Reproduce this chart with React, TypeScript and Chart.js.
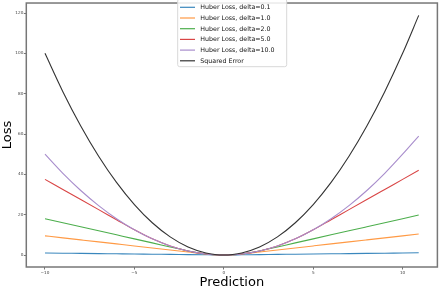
import React, { useEffect, useRef } from "react";
import { Chart, registerables } from "chart.js";

Chart.register(...registerables);

const predictions = [-10, -9, -8, -7, -6, -5, -4, -3, -2, -1, -0.5, 0, 0.5, 1, 2, 3, 4, 5, 6, 7, 8, 9, 10, 10.9];
const huber01 = [0.995, 0.895, 0.795, 0.695, 0.595, 0.495, 0.395, 0.295, 0.195, 0.095, 0.045, 0, 0.045, 0.095, 0.195, 0.295, 0.395, 0.495, 0.595, 0.695, 0.795, 0.895, 0.995, 1.085];
const huber1 = [9.5, 8.5, 7.5, 6.5, 5.5, 4.5, 3.5, 2.5, 1.5, 0.5, 0.125, 0, 0.125, 0.5, 1.5, 2.5, 3.5, 4.5, 5.5, 6.5, 7.5, 8.5, 9.5, 10.4];
const huber2 = [18, 16, 14, 12, 10, 8, 6, 4, 2, 0.5, 0.125, 0, 0.125, 0.5, 2, 4, 6, 8, 10, 12, 14, 16, 18, 19.8];
const huber5 = [37.5, 32.5, 27.5, 22.5, 17.5, 12.5, 8, 4.5, 2, 0.5, 0.125, 0, 0.125, 0.5, 2, 4.5, 8, 12.5, 17.5, 22.5, 27.5, 32.5, 37.5, 42];
const huber10 = [50, 40.5, 32, 24.5, 18, 12.5, 8, 4.5, 2, 0.5, 0.125, 0, 0.125, 0.5, 2, 4.5, 8, 12.5, 18, 24.5, 32, 40.5, 50, 59];
const squared = [100, 81, 64, 49, 36, 25, 16, 9, 4, 1, 0.25, 0, 0.25, 1, 4, 9, 16, 25, 36, 49, 64, 81, 100, 118.81];

const seriesLabels = [
  "Huber Loss, delta=0.1",
  "Huber Loss, delta=1.0",
  "Huber Loss, delta=2.0",
  "Huber Loss, delta=5.0",
  "Huber Loss, delta=10.0",
  "Squared Error",
];
const seriesValues = [huber01, huber1, huber2, huber5, huber10, squared];
const seriesColors = ["#3a87bd", "#ff9a45", "#4cae4c", "#d94545", "#a88dcc", "#333333"];

const xTicks = [-10, -5, 0, 5, 10];
const yTicks = [0, 20, 40, 60, 80, 100, 120];

const FONT = "'DejaVu Sans', sans-serif";

const framePlugin = {
  id: "frame",
  afterDatasetsDraw(chart: any) {
    const { ctx, chartArea } = chart;
    ctx.save();
    ctx.strokeStyle = "#777";
    ctx.lineWidth = 1.5;
    ctx.strokeRect(chartArea.left, chartArea.top, chartArea.right - chartArea.left, chartArea.bottom - chartArea.top);
    ctx.restore();
  },
};

const legendPlugin = {
  id: "mplLegend",
  afterDraw(chart: any) {
    const { ctx } = chart;
    const ds = chart.data.datasets;
    ctx.save();
    const left = 177.7, right = 286.7, top = -1, bottom = 66.7;
    ctx.fillStyle = "rgba(255,255,255,0.85)";
    ctx.strokeStyle = "#d8d8d8";
    ctx.lineWidth = 1;
    ctx.beginPath();
    (ctx as any).roundRect(left, top, right - left, bottom - top, 2);
    ctx.fill();
    ctx.stroke();
    ctx.font = `6.3px ${FONT}`;
    ctx.textBaseline = "middle";
    ctx.textAlign = "left";
    ds.forEach((d: any, i: number) => {
      const y = 7.3 + i * 10.7;
      ctx.strokeStyle = d.borderColor;
      ctx.lineWidth = 1.2;
      ctx.beginPath();
      ctx.moveTo(180, y);
      ctx.lineTo(195, y);
      ctx.stroke();
      ctx.fillStyle = "#111";
      ctx.fillText(d.label, 200.3, y + 0.3);
    });
    ctx.restore();
  },
};

export default function App() {
  const canvasRef = useRef<HTMLCanvasElement | null>(null);

  useEffect(() => {
    if (!canvasRef.current) return;
    const datasets = seriesLabels.map((label, i) => ({
      label,
      data: predictions.map((x, j) => ({ x, y: seriesValues[i][j] })),
      borderColor: seriesColors[i],
      backgroundColor: seriesColors[i],
      borderWidth: 1.1,
      pointRadius: 0,
      showLine: true,
      cubicInterpolationMode: "monotone" as const,
      order: seriesLabels.length - 1 - i,
    }));
    const chart = new Chart(canvasRef.current, {
      type: "scatter",
      data: { datasets },
      plugins: [framePlugin, legendPlugin],
      options: {
        animation: false,
        responsive: false,
        devicePixelRatio: 1,
        layout: { autoPadding: false, padding: { left: 0, right: 2.6, top: 0, bottom: 0 } },
        plugins: { legend: { display: false }, tooltip: { enabled: false } },
        scales: {
          x: {
            type: "linear",
            min: -11.045,
            max: 11.945,
            afterBuildTicks: (scale: any) => {
              scale.ticks = xTicks.map((v) => ({ value: v }));
            },
            afterFit: (scale: any) => {
              scale.height = 24;
            },
            grid: { drawOnChartArea: false, drawTicks: true, tickLength: 2.5, color: "#777" },
            border: { display: false },
            ticks: {
              font: { size: 4.2, family: FONT },
              color: "#444",
              padding: 0.5,
              maxRotation: 0,
              callback: (v: any) => String(v).replace("-", "\u2212"),
            },
            title: {
              display: true,
              text: "Prediction",
              font: { size: 13, family: FONT },
              color: "#000",
              padding: { top: 0, bottom: 1 },
            },
          },
          y: {
            type: "linear",
            min: -5.95,
            max: 124.95,
            afterBuildTicks: (scale: any) => {
              scale.ticks = yTicks.map((v) => ({ value: v }));
            },
            afterFit: (scale: any) => {
              scale.width = 26.3;
            },
            grid: { drawOnChartArea: false, drawTicks: true, tickLength: 2.5, color: "#777" },
            border: { display: false },
            ticks: {
              font: { size: 4.2, family: FONT },
              color: "#444",
              padding: 0.5,
              callback: (v: any) => String(v),
            },
            title: {
              display: true,
              text: "Loss",
              font: { size: 13, family: FONT },
              color: "#000",
              padding: { top: 0, bottom: 0 },
            },
          },
        },
      },
    } as any);
    return () => chart.destroy();
  }, []);

  return (
    <div style={{ position: "absolute", left: 0, top: 0, width: 440, height: 291, background: "#fff" }}>
      <canvas ref={canvasRef} width={440} height={291} style={{ display: "block", width: 440, height: 291 }} />
    </div>
  );
}
